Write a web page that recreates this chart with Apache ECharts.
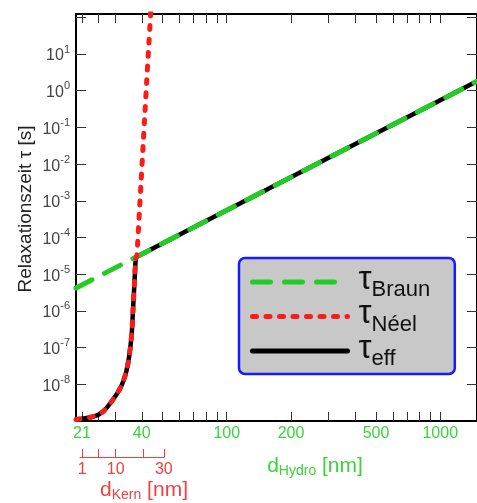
<!DOCTYPE html>
<html><head><meta charset="utf-8">
<script src="https://cdn.jsdelivr.net/npm/echarts@6/dist/echarts.min.js"></script>
<style>html,body{margin:0;padding:0;background:#fff}#c{width:477px;height:503px}</style>
</head><body><div id="c"></div>
<script>
// ---- data ----
const dBraun   = [19.68, 37.9, 100, 1000, 1486];          // d_Hydro [nm]
const tauBraun = [4.2e-6, 3.0e-5, 5.5e-4, 0.55, 1.8];     // s

const dNeel   = [19.7, 23.65, 26.3, 29.24, 31.97, 33.7, 34.9, 35.9, 36.4, 36.95, 37.5, 37.9, 39.1, 41.26, 42.14, 42.96, 44.0, 44.3];
const tauNeel = [1.1e-9, 1.31e-9, 1.79e-9, 3.73e-9, 8.6e-9, 2.0e-8, 5.65e-8, 2.45e-7, 1.06e-6, 5.65e-6, 2.71e-5, 3.0e-5, 6.9e-4, 0.18, 1.62, 11.5, 115, 250];

const dEff   = [19.7, 23.65, 26.3, 29.24, 31.97, 33.7, 34.9, 35.9, 36.4, 36.95, 37.5, 37.9, 100, 1000, 1486];
const tauEff = [1.1e-9, 1.31e-9, 1.79e-9, 3.73e-9, 8.6e-9, 2.0e-8, 5.65e-8, 2.45e-7, 1.06e-6, 5.65e-6, 2.71e-5, 3.0e-5, 5.5e-4, 0.55, 1.8];

const xTickVals  = [21, 25, 30, 40, 50, 60, 70, 80, 90, 100, 200, 300, 400, 500, 600, 700, 800, 900, 1000];
const xLabelVals = [21, 40, 100, 200, 500, 1000];
const yTickVals  = [1e-8, 1e-7, 1e-6, 1e-5, 1e-4, 1e-3, 1e-2, 1e-1, 1, 10, 100];
const yLabelVals = [1e-8, 1e-7, 1e-6, 1e-5, 1e-4, 1e-3, 1e-2, 1e-1, 1, 10];
const kernTickVals  = [21, 25, 30, 40, 50];   // positions on d_Hydro scale (d_Kern = d_Hydro - 20)
const kernLabelVals = [21, 30, 50];
const shell = 20;

const FONT = '"Liberation Sans", Arial, sans-serif';
const GREEN = '#22cc22', GREEN_T = '#3ad33a', RED = '#ff1a1a', RED_T = '#f04040';

const zip = (a, b) => a.map((v, i) => [v, b[i]]);
const chart = echarts.init(document.getElementById('c'), null, {renderer: 'canvas'});

const xMin = 19.68, xMax = 1486, yMin = 1e-9, yMax = 123;
const names = {Braun: 'Braun', Neel: 'Néel', eff: 'eff'};

const option = {
  animation: false,
  backgroundColor: '#fff',
  textStyle: {fontFamily: FONT},
  grid: [
    {left: 76, top: 14, width: 407, height: 407, containLabel: false},
    {left: 80, top: 447, width: 84, height: 10, containLabel: false}
  ],
  xAxis: [
    {type: 'log', gridIndex: 0, min: xMin, max: xMax, position: 'bottom',
     axisLine: {show: true, lineStyle: {color: '#000', width: 2}},
     axisTick: {show: true, inside: true, length: 9, customValues: xTickVals, lineStyle: {color: '#333', width: 1}},
     axisLabel: {show: true, customValues: xLabelVals, color: GREEN_T, fontSize: 16, margin: 5, fontFamily: FONT,
                 formatter: v => String(Math.round(v))},
     splitLine: {show: false}, minorTick: {show: false}},
    {type: 'log', gridIndex: 0, min: xMin, max: xMax, position: 'top',
     axisLine: {show: true, lineStyle: {color: '#000', width: 2}},
     axisTick: {show: true, inside: true, length: 9, customValues: xTickVals, lineStyle: {color: '#333', width: 1}},
     axisLabel: {show: false}, splitLine: {show: false}},
    {type: 'log', gridIndex: 1, min: 20.53, max: 50.1, position: 'bottom',
     axisLine: {show: true, lineStyle: {color: RED_T, width: 1}},
     axisTick: {show: true, inside: true, length: 8, customValues: kernTickVals, lineStyle: {color: RED_T, width: 1}},
     axisLabel: {show: true, customValues: kernLabelVals, color: RED_T, fontSize: 16, margin: 5, fontFamily: FONT,
                 formatter: v => String(Math.round(v) - shell)},
     splitLine: {show: false}}
  ],
  yAxis: [
    {type: 'log', gridIndex: 0, min: yMin, max: yMax,
     axisLine: {show: true, lineStyle: {color: '#000', width: 2}},
     axisTick: {show: true, inside: true, length: 10, customValues: yTickVals, lineStyle: {color: '#333', width: 1}},
     axisLabel: {show: true, customValues: yLabelVals, margin: 6, color: '#444', fontFamily: FONT,
       formatter: v => '{b|10}{e|' + Math.round(Math.log10(v)) + '}',
       rich: {b: {fontSize: 16, color: '#444', verticalAlign: 'bottom', lineHeight: 20, fontFamily: FONT},
              e: {fontSize: 11, color: '#444', verticalAlign: 'top', lineHeight: 20, fontFamily: FONT}}},
     splitLine: {show: false}},
    {type: 'log', gridIndex: 0, min: yMin, max: yMax, position: 'right',
     axisLine: {show: true, lineStyle: {color: '#000', width: 2}},
     axisTick: {show: true, inside: true, length: 10, customValues: yTickVals, lineStyle: {color: '#333', width: 1}},
     axisLabel: {show: false}, splitLine: {show: false}},
    {type: 'value', gridIndex: 1, show: false}
  ],
  legend: {
    orient: 'vertical', left: 239, top: 258,
    data: ['Braun', 'Neel', 'eff'],
    itemWidth: 95, itemHeight: 14, itemGap: -3.5,
    itemStyle: {opacity: 0},
    lineStyle: {width: 5, cap: 'round'},
    backgroundColor: '#c8c8c8', borderColor: '#1a1aff', borderWidth: 2.5, borderRadius: 6,
    padding: [5, 24, 4, 11],
    formatter: n => '{t|τ}{s|' + names[n] + '}{z| }',
    textStyle: {fontFamily: FONT, color: '#111',
      rich: {t: {fontSize: 33, lineHeight: 28, verticalAlign: 'top', padding: [0, 0, 0, 6], color: '#111', fontFamily: FONT},
             s: {fontSize: 22, lineHeight: 22, verticalAlign: 'bottom', color: '#111', fontFamily: FONT},
             z: {fontSize: 2, lineHeight: 38, color: '#111'}}}
  },
  graphic: [
    {type: 'text', x: 26, y: 209, rotation: Math.PI / 2,
     style: {text: 'Relaxationszeit τ [s]', font: '19px ' + FONT, fill: '#222', align: 'center', verticalAlign: 'middle'}},
    {type: 'text', x: 315, y: 467,
     style: {text: '{d|d}{s|Hydro}{d| [nm]}', align: 'center', verticalAlign: 'middle',
       rich: {d: {fontSize: 21, fill: GREEN_T, fontFamily: FONT, verticalAlign: 'top', lineHeight: 22},
              s: {fontSize: 14, fill: GREEN_T, fontFamily: FONT, verticalAlign: 'bottom', lineHeight: 16}}}},
    {type: 'text', x: 144, y: 491,
     style: {text: '{d|d}{s|Kern}{d| [nm]}', align: 'center', verticalAlign: 'middle',
       rich: {d: {fontSize: 21, fill: RED_T, fontFamily: FONT, verticalAlign: 'top', lineHeight: 22},
              s: {fontSize: 14, fill: RED_T, fontFamily: FONT, verticalAlign: 'bottom', lineHeight: 16}}}}
  ],
  series: [
    {name: 'eff', type: 'line', xAxisIndex: 0, yAxisIndex: 0, data: zip(dEff, tauEff), showSymbol: false, symbol: 'none',
     smooth: 0.25, z: 2, lineStyle: {color: '#000', width: 4.5, cap: 'round', join: 'round'}, itemStyle: {color: '#000'}},
    {name: 'Braun', type: 'line', xAxisIndex: 0, yAxisIndex: 0, data: zip(dBraun, tauBraun), showSymbol: false, symbol: 'none',
     z: 3, lineStyle: {color: GREEN, width: 5, type: [18, 14], cap: 'round'}, itemStyle: {color: GREEN}},
    {name: 'Neel', type: 'line', xAxisIndex: 0, yAxisIndex: 0, data: zip(dNeel, tauNeel), showSymbol: false, symbol: 'none',
     smooth: 0.25, z: 4, lineStyle: {color: RED, width: 5, type: [4, 9.5], cap: 'round'}, itemStyle: {color: RED}}
  ]
};
chart.setOption(option);
</script></body></html>
